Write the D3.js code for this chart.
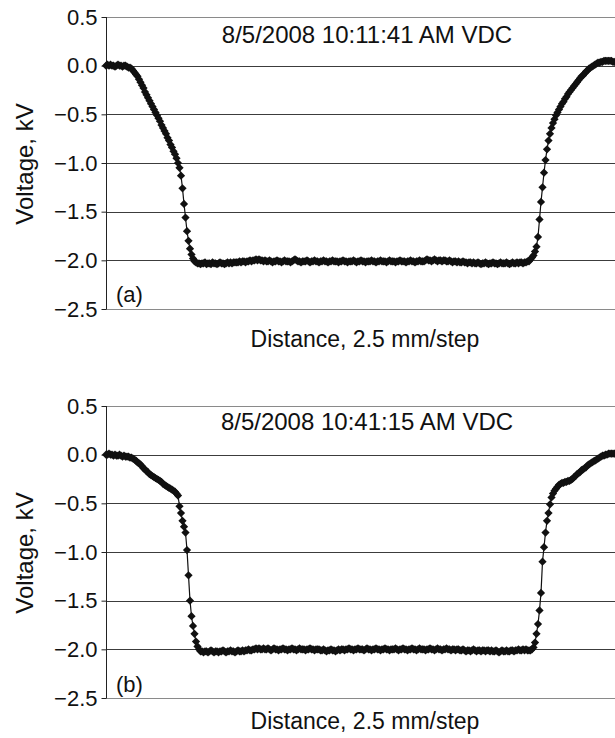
<!DOCTYPE html>
<html>
<head>
<meta charset="utf-8">
<script src="https://cdn.jsdelivr.net/npm/d3@7"></script>
<style>
  body { margin: 0; background: #fff; }
  text { font-family: "Liberation Sans", Arial, sans-serif; fill: #111; }
</style>
</head>
<body>
<div id="chart"></div>
<script>
// y axis ticks (kV)
const yTicks = [0.5, 0.0, -0.5, -1.0, -1.5, -2.0, -2.5];
const titles = ["8/5/2008 10:11:41 AM VDC", "8/5/2008 10:41:15 AM VDC"];
const panelLabels = ["(a)", "(b)"];
const xLabel = "Distance, 2.5 mm/step";
const yLabel = "Voltage, kV";

// voltage per step, panel (a)
const voltageA = [
  0.00, 0.01, 0.00, 0.01, 0.00, 0.00, -0.01, 0.00, 0.01, 0.00, 0.00, -0.01, 0.00, 0.00,
  -0.01, -0.02, -0.02, -0.03, -0.05, -0.07, -0.09, -0.11, -0.14, -0.17, -0.20, -0.23,
  -0.27, -0.30, -0.33, -0.36, -0.39, -0.42, -0.45, -0.48, -0.51, -0.54, -0.57, -0.61,
  -0.64, -0.67, -0.70, -0.74, -0.77, -0.81, -0.84, -0.88, -0.91, -0.95, -1.00, -1.05,
  -1.13, -1.26, -1.42, -1.56, -1.70, -1.80, -1.88, -1.94, -1.98, -2.01, -2.02, -2.03,
  -2.03, -2.04, -2.03, -2.03, -2.02, -2.04, -2.03, -2.03, -2.04, -2.02, -2.03, -2.03, -2.04,
  -2.03, -2.02, -2.03, -2.03, -2.04, -2.03, -2.02, -2.03, -2.02, -2.03, -2.02, -2.02,
  -2.02, -2.02, -2.01, -2.02, -2.01, -2.01, -2.02, -2.01, -2.01, -2.00, -2.01, -2.00,
  -2.00, -1.99, -2.00, -1.99, -2.00, -2.00, -2.01, -2.00,
  -2.01, -2.01, -2.00, -2.01, -2.02, -2.01, -2.01, -2.00, -2.01, -2.01, -2.02, -2.01, -2.00, -2.01, -2.01, -2.01, -2.02,
  -2.01, -2.00, -1.99, -2.00, -2.01, -2.01, -2.02, -2.01, -2.01, -2.01, -2.00, -2.01, -2.02, -2.01, -2.01, -2.00, -2.01,
  -2.01, -2.02, -2.01, -2.01, -2.00, -2.01, -2.01, -2.02, -2.01, -2.01, -2.00, -2.01, -2.01, -2.01, -2.02, -2.01, -2.01,
  -2.00, -2.01, -2.01, -2.02, -2.01, -2.01, -2.01, -2.00, -2.01, -2.02, -2.01, -2.01, -2.00, -2.01, -2.01, -2.02, -2.01,
  -2.01, -2.01, -2.00, -2.01, -2.01, -2.02, -2.01, -2.01, -2.00, -2.01, -2.01, -2.01, -2.02, -2.01, -2.00, -2.01, -2.01,
  -2.01, -2.02, -2.01, -2.01, -2.00, -2.01, -2.01, -2.01, -2.02, -2.01, -2.01, -2.00, -2.01, -2.01, -2.02, -2.01, -2.01,
  -2.00, -2.01, -2.01, -2.01, -2.00, -1.99, -2.00, -2.00, -2.01, -2.00, -1.99, -2.00, -2.01, -2.00, -2.00, -2.01, -2.00,
  -2.00, -2.01, -2.01, -2.00, -2.01, -2.02, -2.01, -2.01, -2.02, -2.01, -2.02, -2.02, -2.01, -2.02, -2.02, -2.03, -2.02,
  -2.02, -2.03, -2.02, -2.03, -2.03, -2.02, -2.03, -2.04, -2.03, -2.03,
  -2.02, -2.03, -2.04, -2.03, -2.03, -2.02, -2.03, -2.03, -2.04, -2.03,
  -2.02, -2.03, -2.03, -2.03, -2.02, -2.03, -2.04, -2.03, -2.02, -2.03,
  -2.03, -2.02, -2.03, -2.02, -2.02, -2.03, -2.02, -2.02, -2.01,
  -2.01, -1.99, -1.97, -1.95, -1.91, -1.86, -1.76, -1.58, -1.40, -1.25, -1.10, -0.97,
  -0.86, -0.77, -0.70, -0.64, -0.59, -0.55, -0.51, -0.48, -0.45, -0.42, -0.39, -0.37,
  -0.34, -0.32, -0.29, -0.27, -0.25, -0.23, -0.21, -0.19, -0.17, -0.15, -0.13, -0.11,
  -0.10, -0.08, -0.06, -0.05, -0.03, -0.02, -0.01, 0.00, 0.01, 0.02, 0.03, 0.03,
  0.04, 0.04, 0.05, 0.05, 0.05, 0.05, 0.05, 0.05, 0.04, 0.04
];

// voltage per step, panel (b)
const voltageB = [
  0.00, 0.00, 0.01, 0.00, 0.00, -0.01, 0.00, -0.01, -0.01, 0.00, -0.01, -0.02, -0.01, -0.02, -0.02, -0.02,
  -0.03, -0.03, -0.04, -0.05, -0.06, -0.08, -0.09, -0.10, -0.12, -0.14, -0.15, -0.17,
  -0.18, -0.20, -0.21, -0.22, -0.23, -0.24, -0.25, -0.26, -0.27, -0.28, -0.30, -0.31,
  -0.32, -0.33, -0.34, -0.35, -0.36, -0.37, -0.38, -0.40, -0.42, -0.53, -0.60, -0.68,
  -0.74, -0.80, -0.98, -1.24, -1.50, -1.66, -1.76, -1.84, -1.92, -1.97, -2.00, -2.02,
  -2.02, -2.03, -2.02, -2.02, -2.03, -2.02, -2.01, -2.02, -2.03, -2.02,
  -2.02, -2.03, -2.02, -2.02, -2.01, -2.02, -2.03, -2.02, -2.02, -2.01,
  -2.02, -2.02, -2.03, -2.02, -2.01, -2.02, -2.02, -2.01, -2.02, -2.01,
  -2.01, -2.00, -2.01, -2.01, -2.00, -2.00, -1.99, -2.00, -1.99, -2.00,
  -2.00, -1.99, -2.00, -2.00, -1.99, -2.00, -2.01, -2.00, -1.99, -2.00, -2.00, -2.01, -2.00, -2.00, -1.99, -2.00, -2.00, -2.01, -2.00,
  -2.00, -1.99, -2.00, -2.00, -2.01, -2.00, -1.99, -2.00, -2.00, -2.00, -2.01, -2.00, -2.00, -1.99, -2.00, -2.00, -2.01, -2.00, -2.00,
  -2.00, -2.01, -2.01, -2.00, -2.01, -2.02, -2.01, -2.01, -2.00, -2.01, -2.01, -2.02, -2.01, -2.00, -2.01, -2.00, -2.00, -2.01, -2.00,
  -2.00, -1.99, -2.00, -2.00, -2.01, -2.00, -2.00, -1.99, -2.00, -2.00, -2.00, -2.01, -2.00, -1.99, -2.00, -2.00, -2.01, -2.00, -2.00,
  -1.99, -2.00, -2.00, -2.01, -2.00, -2.00, -1.99, -2.00, -2.00, -2.01, -2.00, -2.00, -2.00, -1.99, -2.00, -2.01, -2.00, -2.00, -1.99,
  -2.00, -2.00, -2.01, -2.00, -2.00, -1.99, -2.00, -2.00, -2.01, -2.00, -1.99, -2.00, -2.00, -2.00, -2.01, -2.00, -2.00, -1.99, -2.00,
  -2.00, -2.01, -2.00, -1.99, -2.00, -2.00, -2.01, -2.00, -2.00, -1.99, -2.00, -2.00, -2.01, -2.00, -2.00, -2.01, -2.00, -2.00, -2.01,
  -2.01, -2.00, -2.01, -2.02, -2.01, -2.01, -2.02, -2.01, -2.00, -2.01, -2.02, -2.01, -2.01, -2.02, -2.01, -2.01, -2.02, -2.01, -2.01,
  -2.02, -2.01, -2.02, -2.02, -2.01, -2.02, -2.03, -2.02, -2.01, -2.02,
  -2.02, -2.01, -2.02, -2.02, -2.01, -2.01, -2.02, -2.01, -2.01, -2.00,
  -2.01, -2.01, -2.00, -2.01, -2.00, -2.01, -2.01,
  -2.01, -2.00, -1.98, -1.93, -1.84, -1.74, -1.60, -1.42, -1.10, -0.95, -0.80, -0.68,
  -0.60, -0.51, -0.44, -0.40, -0.37, -0.35, -0.33, -0.31, -0.30, -0.29, -0.29, -0.28,
  -0.28, -0.27, -0.27, -0.26, -0.25, -0.23, -0.22, -0.20, -0.19, -0.18, -0.16, -0.15,
  -0.14, -0.13, -0.11, -0.10, -0.09, -0.08, -0.07, -0.06, -0.05, -0.04, -0.03, -0.02,
  -0.01, -0.01, 0.00, 0.00, 0.01, 0.01, 0.01, 0.01, 0.01
];

const width = 615, height = 738;
const left = 106, right = 614.5;

const svg = d3.select("#chart").append("svg")
    .attr("width", width)
    .attr("height", height);

// layout of each panel
const panels = [
  {data: voltageA, title: titles[0], label: panelLabels[0], top: 17, bottom: 309, titleY: 43, xLabelY: 347, labelY: 302},
  {data: voltageB, title: titles[1], label: panelLabels[1], top: 406, bottom: 698, titleY: 430, xLabelY: 729, labelY: 692}
];

panels.forEach(p => drawPanel(p));

function drawPanel(p) {
  let g = svg.append("g");

  let x = d3.scaleLinear().domain([0, p.data.length - 1]).range([left, right]);
  let y = d3.scaleLinear().domain([-2.5, 0.5]).range([p.bottom, p.top]);

  // horizontal gridlines
  g.selectAll("line.grid")
    .data(yTicks)
    .enter().append("line")
    .attr("class", "grid")
    .attr("x1", left)
    .attr("x2", width)
    .attr("y1", d => Math.round(y(d)) + 0.5)
    .attr("y2", d => Math.round(y(d)) + 0.5)
    .attr("stroke", d => (d === 0.5 || d === -2.5) ? "#8a8a8a" : "#3c3c3c")
    .attr("stroke-width", 1);

  // y axis with outside ticks
  let axis = g.append("g")
    .attr("transform", "translate(" + (left + 0.5) + ",0)")
    .call(d3.axisLeft(y).tickValues(yTicks).tickSize(5).tickPadding(4).tickFormat(d3.format(".1f")));
  axis.select(".domain").attr("stroke", "#222").attr("d", "M0," + p.top + "V" + p.bottom);
  axis.selectAll(".tick line").attr("stroke", "#222");
  axis.selectAll(".tick text")
    .attr("font-size", 22)
    .attr("font-family", "Liberation Sans, Arial, sans-serif")
    .attr("fill", "#111");

  // line through the points
  let line = d3.line()
    .x((d, i) => x(i))
    .y(d => y(d));

  g.append("path")
    .datum(p.data)
    .attr("fill", "none")
    .attr("stroke", "#111")
    .attr("stroke-width", 1.2)
    .attr("d", line);

  // diamond markers
  let marker = d3.symbol().type(d3.symbolSquare).size(34);
  g.selectAll("path.pt")
    .data(p.data)
    .enter().append("path")
    .attr("class", "pt")
    .attr("d", marker)
    .attr("fill", "#111")
    .attr("transform", (d, i) => "translate(" + x(i) + "," + y(d) + ") rotate(45)");

  // texts
  g.append("text")
    .attr("x", 367)
    .attr("y", p.titleY)
    .attr("text-anchor", "middle")
    .attr("font-size", 24)
    .text(p.title);

  g.append("text")
    .attr("x", 365)
    .attr("y", p.xLabelY)
    .attr("text-anchor", "middle")
    .attr("font-size", 23)
    .text(xLabel);

  g.append("text")
    .attr("transform", "translate(33," + ((p.top + p.bottom) / 2 + 1) + ") rotate(-90)")
    .attr("text-anchor", "middle")
    .attr("font-size", 24)
    .text(yLabel);

  g.append("text")
    .attr("x", 116)
    .attr("y", p.labelY)
    .attr("font-size", 22)
    .text(p.label);
}
</script>
</body>
</html>
